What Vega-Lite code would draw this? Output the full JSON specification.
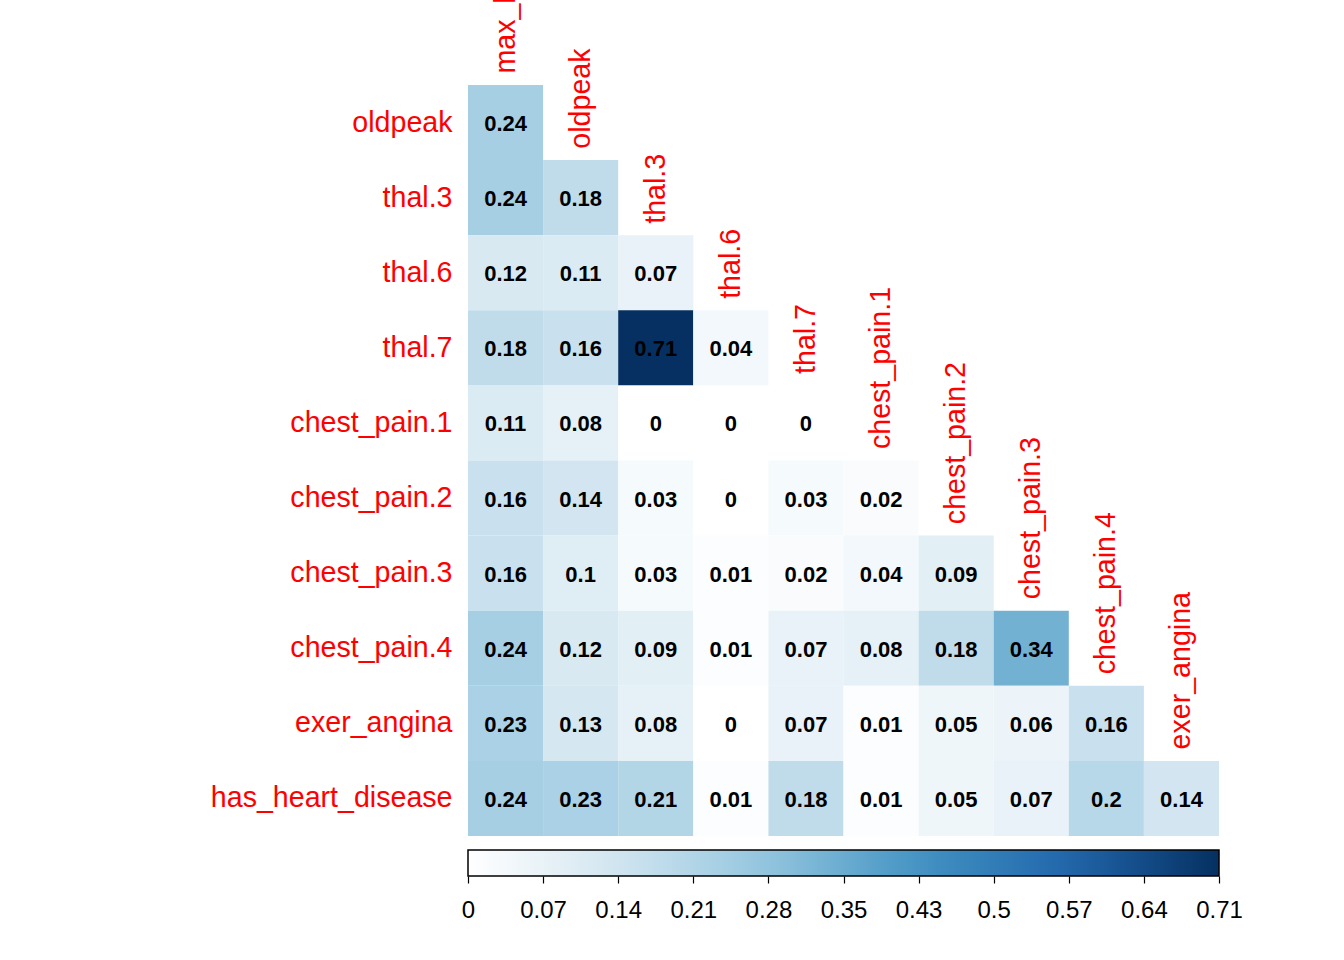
{
  "$schema": "https://vega.github.io/schema/vega-lite/v6.json",
  "autosize": {"type": "none"},
  "padding": {"left": 468, "top": 85, "right": 125, "bottom": 124},
  "width": 751,
  "height": 751,
  "background": "white",
  "config": {"view": {"stroke": null}, "font": "Liberation Sans"},
  "datasets": {
    "cells": [
      {"row": "oldpeak", "col": "max_hr", "v": 0.24},
      {"row": "thal.3", "col": "max_hr", "v": 0.24},
      {"row": "thal.3", "col": "oldpeak", "v": 0.18},
      {"row": "thal.6", "col": "max_hr", "v": 0.12},
      {"row": "thal.6", "col": "oldpeak", "v": 0.11},
      {"row": "thal.6", "col": "thal.3", "v": 0.07},
      {"row": "thal.7", "col": "max_hr", "v": 0.18},
      {"row": "thal.7", "col": "oldpeak", "v": 0.16},
      {"row": "thal.7", "col": "thal.3", "v": 0.71},
      {"row": "thal.7", "col": "thal.6", "v": 0.04},
      {"row": "chest_pain.1", "col": "max_hr", "v": 0.11},
      {"row": "chest_pain.1", "col": "oldpeak", "v": 0.08},
      {"row": "chest_pain.1", "col": "thal.3", "v": 0},
      {"row": "chest_pain.1", "col": "thal.6", "v": 0},
      {"row": "chest_pain.1", "col": "thal.7", "v": 0},
      {"row": "chest_pain.2", "col": "max_hr", "v": 0.16},
      {"row": "chest_pain.2", "col": "oldpeak", "v": 0.14},
      {"row": "chest_pain.2", "col": "thal.3", "v": 0.03},
      {"row": "chest_pain.2", "col": "thal.6", "v": 0},
      {"row": "chest_pain.2", "col": "thal.7", "v": 0.03},
      {"row": "chest_pain.2", "col": "chest_pain.1", "v": 0.02},
      {"row": "chest_pain.3", "col": "max_hr", "v": 0.16},
      {"row": "chest_pain.3", "col": "oldpeak", "v": 0.1},
      {"row": "chest_pain.3", "col": "thal.3", "v": 0.03},
      {"row": "chest_pain.3", "col": "thal.6", "v": 0.01},
      {"row": "chest_pain.3", "col": "thal.7", "v": 0.02},
      {"row": "chest_pain.3", "col": "chest_pain.1", "v": 0.04},
      {"row": "chest_pain.3", "col": "chest_pain.2", "v": 0.09},
      {"row": "chest_pain.4", "col": "max_hr", "v": 0.24},
      {"row": "chest_pain.4", "col": "oldpeak", "v": 0.12},
      {"row": "chest_pain.4", "col": "thal.3", "v": 0.09},
      {"row": "chest_pain.4", "col": "thal.6", "v": 0.01},
      {"row": "chest_pain.4", "col": "thal.7", "v": 0.07},
      {"row": "chest_pain.4", "col": "chest_pain.1", "v": 0.08},
      {"row": "chest_pain.4", "col": "chest_pain.2", "v": 0.18},
      {"row": "chest_pain.4", "col": "chest_pain.3", "v": 0.34},
      {"row": "exer_angina", "col": "max_hr", "v": 0.23},
      {"row": "exer_angina", "col": "oldpeak", "v": 0.13},
      {"row": "exer_angina", "col": "thal.3", "v": 0.08},
      {"row": "exer_angina", "col": "thal.6", "v": 0},
      {"row": "exer_angina", "col": "thal.7", "v": 0.07},
      {"row": "exer_angina", "col": "chest_pain.1", "v": 0.01},
      {"row": "exer_angina", "col": "chest_pain.2", "v": 0.05},
      {"row": "exer_angina", "col": "chest_pain.3", "v": 0.06},
      {"row": "exer_angina", "col": "chest_pain.4", "v": 0.16},
      {"row": "has_heart_disease", "col": "max_hr", "v": 0.24},
      {"row": "has_heart_disease", "col": "oldpeak", "v": 0.23},
      {"row": "has_heart_disease", "col": "thal.3", "v": 0.21},
      {"row": "has_heart_disease", "col": "thal.6", "v": 0.01},
      {"row": "has_heart_disease", "col": "thal.7", "v": 0.18},
      {"row": "has_heart_disease", "col": "chest_pain.1", "v": 0.01},
      {"row": "has_heart_disease", "col": "chest_pain.2", "v": 0.05},
      {"row": "has_heart_disease", "col": "chest_pain.3", "v": 0.07},
      {"row": "has_heart_disease", "col": "chest_pain.4", "v": 0.2},
      {"row": "has_heart_disease", "col": "exer_angina", "v": 0.14}
    ],
    "collabels": [
      {"col": "max_hr", "row": "oldpeak"},
      {"col": "oldpeak", "row": "thal.3"},
      {"col": "thal.3", "row": "thal.6"},
      {"col": "thal.6", "row": "thal.7"},
      {"col": "thal.7", "row": "chest_pain.1"},
      {"col": "chest_pain.1", "row": "chest_pain.2"},
      {"col": "chest_pain.2", "row": "chest_pain.3"},
      {"col": "chest_pain.3", "row": "chest_pain.4"},
      {"col": "chest_pain.4", "row": "exer_angina"},
      {"col": "exer_angina", "row": "has_heart_disease"}
    ],
    "breaks": [
      {"b": 0}, {"b": 0.071}, {"b": 0.142}, {"b": 0.213}, {"b": 0.284}, {"b": 0.355},
      {"b": 0.426}, {"b": 0.497}, {"b": 0.568}, {"b": 0.639}, {"b": 0.71}
    ]
  },
  "layer": [
    {
      "encoding": {
        "x": {
          "field": "col", "type": "nominal",
          "scale": {"domain": ["max_hr", "oldpeak", "thal.3", "thal.6", "thal.7", "chest_pain.1", "chest_pain.2", "chest_pain.3", "chest_pain.4", "exer_angina"], "paddingInner": 0, "paddingOuter": 0},
          "axis": null
        },
        "y": {
          "field": "row", "type": "nominal",
          "scale": {"domain": ["oldpeak", "thal.3", "thal.6", "thal.7", "chest_pain.1", "chest_pain.2", "chest_pain.3", "chest_pain.4", "exer_angina", "has_heart_disease"], "paddingInner": 0, "paddingOuter": 0},
          "axis": {
            "title": null, "domain": false, "ticks": false, "labelPadding": 16,
            "labelColor": "red", "labelFontSize": 28.6, "labelFont": "Liberation Sans",
            "labelLimit": 0
          }
        }
      },
      "layer": [
        {
          "data": {"name": "cells"},
          "mark": {"type": "rect"},
          "encoding": {
            "color": {
              "field": "v", "type": "quantitative",
              "scale": {
                "type": "linear",
                "interpolate": "rgb",
                "domain": [0, 0.142, 0.284, 0.426, 0.568, 0.71],
                "range": ["#FFFFFF", "#D1E5F0", "#92C5DE", "#4393C3", "#2166AC", "#053061"]
              },
              "legend": {
                "orient": "none", "legendX": 0, "legendY": 765,
                "direction": "horizontal", "title": null,
                "gradientLength": 751, "gradientThickness": 26,
                "gradientStrokeColor": "black", "gradientStrokeWidth": 1.5,
                "labelExpr": "''", "padding": 0
              }
            }
          }
        },
        {
          "data": {"name": "cells"},
          "mark": {"type": "text", "fontSize": 22, "fontWeight": "bold", "color": "black", "font": "Liberation Sans", "align": "center", "baseline": "middle", "dy": 1.5},
          "encoding": {
            "text": {"field": "v", "type": "quantitative", "format": ".2~f"}
          }
        },
        {
          "data": {"name": "collabels"},
          "mark": {"type": "text", "angle": 270, "align": "left", "baseline": "middle", "dx": 49, "fontSize": 28.6, "color": "red", "font": "Liberation Sans"},
          "encoding": {
            "text": {"field": "col", "type": "nominal"}
          }
        }
      ]
    },
    {
      "data": {"name": "breaks"},
      "mark": {"type": "rule", "opacity": 0},
      "encoding": {
        "x": {
          "field": "b", "type": "quantitative",
          "scale": {"domain": [0, 0.71], "nice": false, "zero": false},
          "axis": {
            "orient": "bottom", "offset": 40, "title": null, "domain": false, "grid": false,
            "values": [0, 0.071, 0.142, 0.213, 0.284, 0.355, 0.426, 0.497, 0.568, 0.639, 0.71],
            "format": ".2~f", "tickSize": 7, "tickColor": "black", "tickWidth": 1.2,
            "labelPadding": 15, "labelFontSize": 24, "labelColor": "black", "labelFont": "Liberation Sans",
            "labelFlush": false, "labelOverlap": false, "labelBound": false
          }
        }
      }
    }
  ],
  "resolve": {"scale": {"x": "independent"}}
}
